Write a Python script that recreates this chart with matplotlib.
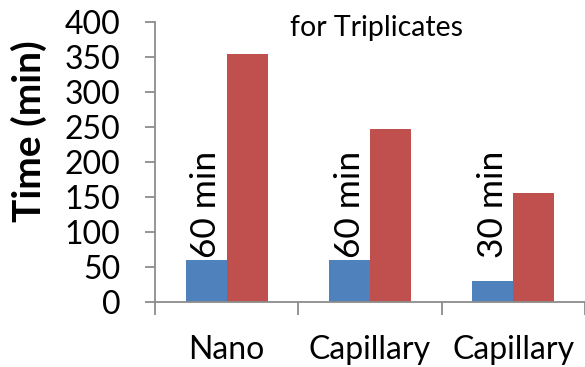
import matplotlib.pyplot as plt
import numpy as np

plt.rcParams['font.family'] = ['Lato', 'DejaVu Sans']

categories = ['Nano', 'Capillary', 'Capillary']
blue_values = [60, 60, 30]
red_values = [354, 247, 156]
bar_labels = ['60 min', '60 min', '30 min']
label_base = 63

blue = '#4F81BD'
red = '#C0504D'
axis_grey = '#8C8C8C'

fig = plt.figure(figsize=(5.85, 3.67), dpi=100)
ax = fig.add_axes([0.265, 0.177, 0.735, 0.763])

x = np.arange(len(categories))
w = 0.285
ax.bar(x - w / 2, blue_values, w, color=blue)
ax.bar(x + w / 2, red_values, w, color=red)

# rotated labels above the blue bars
for xi, lab in zip(x, bar_labels):
    ax.text(xi - w / 2, label_base, lab, rotation=90, ha='center', va='bottom',
            fontsize=25.5)

ax.set_xlim(-0.5, len(categories) - 0.5)
ax.set_ylim(0, 400)
ax.set_yticks(range(0, 401, 50))
ax.set_xticks(x)
ax.set_xticklabels(categories)
ax.set_xticks(np.arange(-0.5, len(categories), 1), minor=True)

for s in ['top', 'right']:
    ax.spines[s].set_visible(False)
for s in ['left', 'bottom']:
    ax.spines[s].set_color(axis_grey)
    ax.spines[s].set_linewidth(1.3)

ax.tick_params(axis='y', length=7, width=1.3, color=axis_grey, pad=18, labelsize=23)
ax.tick_params(axis='x', which='major', length=0, pad=24, labelsize=23)
ax.tick_params(axis='x', which='minor', length=9, width=1.3, color=axis_grey)

fig.text(29 / 585, 1 - 131 / 367, 'Time (min)', rotation=90, fontsize=28,
         fontweight='bold', ha='center', va='center')
fig.text(0.496, 0.925, 'for Triplicates', fontsize=20.5, ha='left', va='center')

fig.savefig('out.png', dpi=100)
